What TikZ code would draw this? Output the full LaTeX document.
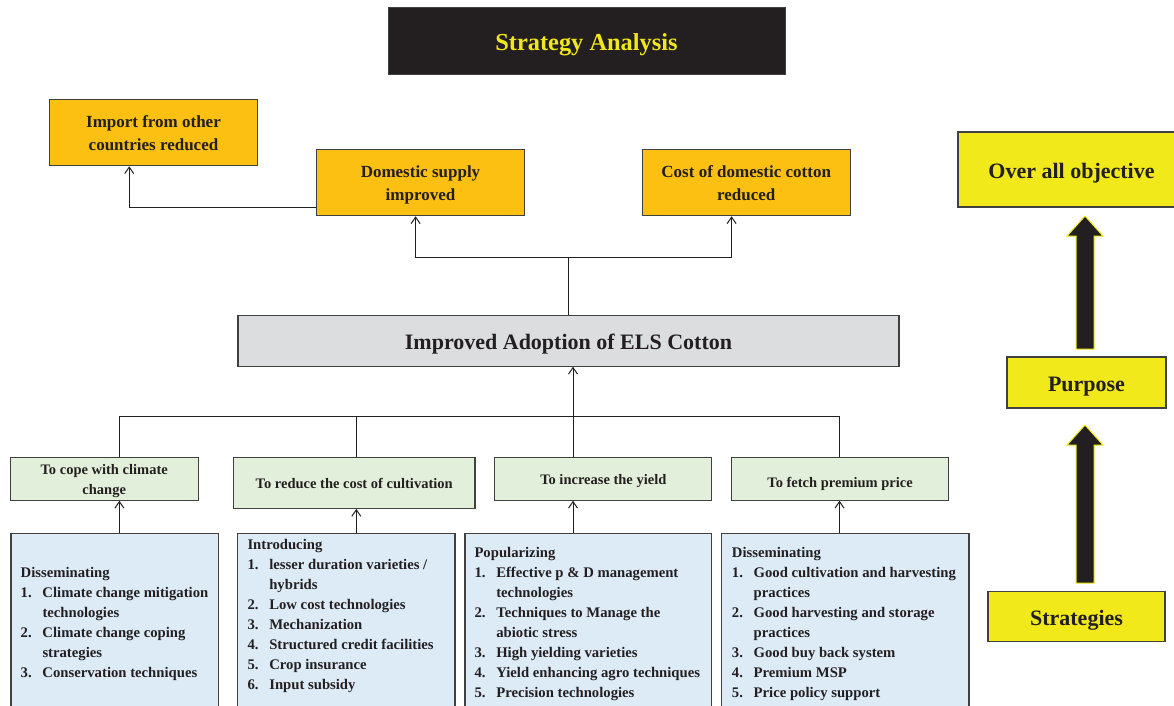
\documentclass[tikz,border=0pt]{standalone}
\usepackage{fontspec}
\setmainfont{Liberation Serif}
\usetikzlibrary{arrows.meta,calc}
\definecolor{orangebox}{RGB}{251,192,18}
\definecolor{yelbox}{RGB}{242,233,26}
\definecolor{greybox}{RGB}{220,221,223}
\definecolor{greenbox}{RGB}{226,239,218}
\definecolor{bluebox}{RGB}{221,235,247}
\definecolor{edgegrey}{RGB}{64,64,64}
\definecolor{inkblack}{RGB}{35,31,32}
\definecolor{titleyel}{RGB}{240,232,28}
\newcommand\itemno[1]{\makebox[21.8pt][l]{#1}}
\newcommand\boxtopstrut{\rule{0pt}{1em}}
\newcommand\boxbotstrut{\rule[-0.22em]{0pt}{0.22em}}
\newcommand\thickuparrow[2]{%
  \fill[inkblack, draw=yelbox, line width=1pt]
    ($(#1)+(-9,0)$) -- ($(#2)+(-9,20)$) -- ($(#2)+(-18,20)$) -- (#2)
    -- ($(#2)+(18,20)$) -- ($(#2)+(9,20)$) -- ($(#1)+(9,0)$) -- cycle;}
\begin{document}
\begin{tikzpicture}[x=1pt,y=-1pt,
  box/.style={draw=edgegrey, line width=1.2pt, inner sep=0pt, align=center, text=inkblack},
  orangenode/.style={box, fill=orangebox, minimum width=208pt, minimum height=66.5pt,
     font=\bfseries\fontsize{17}{23}\selectfont},
  yelnode/.style={box, fill=yelbox, font=\bfseries\fontsize{22}{26}\selectfont},
  greennode/.style={box, fill=greenbox, minimum height=42.3pt,
     font=\bfseries\fontsize{14.5}{20}\selectfont},
  bluenode/.style={box, fill=bluebox, minimum height=183pt},
  listtext/.style={inner sep=0pt, align=left, text=inkblack, anchor=north west,
     font=\bfseries\fontsize{14.7}{20}\selectfont},
  conn/.style={draw=inkblack, line width=1pt},
  arr/.style={conn, -{Straight Barb[length=6.5pt,width=9pt,line width=1pt]}}
]
\useasboundingbox (0,0) rectangle (1174,706);
\clip (0,0) rectangle (1174,706);

% title
\node[fill=inkblack, draw=edgegrey, line width=0.8pt, minimum width=397pt, minimum height=66.5pt,
  inner sep=0pt, text=titleyel, font=\bfseries\fontsize{24.4}{28}\selectfont]
  (title) at (586.5,40.8) {\boxtopstrut Strategy Analysis\boxbotstrut};

% top outcome boxes
\node[orangenode] (import) at (153.5,132.4) {\boxtopstrut Import from other\\countries reduced\boxbotstrut};
\node[orangenode] (domestic) at (420.5,182.4) {\boxtopstrut Domestic supply\\improved\boxbotstrut};
\node[orangenode] (cost) at (746.2,182.4) {\boxtopstrut Cost of domestic cotton\\reduced\boxbotstrut};

% central box
\node[box, fill=greybox, minimum width=661pt, minimum height=50.3pt,
  font=\bfseries\fontsize{22}{26}\selectfont] (adopt) at (568.5,341)
  {\boxtopstrut Improved Adoption of ELS Cotton\boxbotstrut};

% right column
\node[yelnode, minimum width=227pt, minimum height=75pt] (objective) at (1071.5,169.5)
  {\boxtopstrut Over all objective\boxbotstrut};
\node[yelnode, minimum width=159pt, minimum height=51pt] (purpose) at (1086.5,382.5)
  {\boxtopstrut Purpose\boxbotstrut};
\node[yelnode, minimum width=177pt, minimum height=50pt] (strategies) at (1076.5,616.7)
  {\boxtopstrut Strategies\boxbotstrut};

% green strategy boxes
\node[greennode, minimum width=188pt] (g1) at (104.2,479)
  {\boxtopstrut To cope with climate\\change\boxbotstrut};
\node[greennode, minimum width=241.6pt, minimum height=50.6pt] (g2) at (354.2,483)
  {\boxtopstrut To reduce the cost of cultivation\boxbotstrut};
\node[greennode, minimum width=217pt] (g3) at (603.3,479)
  {\boxtopstrut To increase the yield\boxbotstrut};
\node[greennode, minimum width=217.2pt] (g4) at (840.1,479)
  {\rule{0pt}{1.4em}To fetch premium price\boxbotstrut};

% blue activity boxes
\node[bluenode, minimum width=207.3pt] (b1) at (114.7,624.8) {};
\node[bluenode, minimum width=217.3pt] (b2) at (346.3,624.8) {};
\node[bluenode, minimum width=246.7pt] (b3) at (588.3,624.8) {};
\node[bluenode, minimum width=247.3pt] (b4) at (845.3,624.8) {};

\node[listtext] (t1) at (20.5,567.5) {Disseminating\\
\itemno{1.}Climate change mitigation\\
\itemno{}technologies\\
\itemno{2.}Climate change coping\\
\itemno{}strategies\\
\itemno{3.}Conservation techniques};

\node[listtext] (t2) at (247.3,539) {Introducing\\
\itemno{1.}lesser duration varieties /\\
\itemno{}hybrids\\
\itemno{2.}Low cost technologies\\
\itemno{3.}Mechanization\\
\itemno{4.}Structured credit facilities\\
\itemno{5.}Crop insurance\\
\itemno{6.}Input subsidy};

\node[listtext] (t3) at (474.3,547.3) {Popularizing\\
\itemno{1.}Effective p \& D management\\
\itemno{}technologies\\
\itemno{2.}Techniques to Manage the\\
\itemno{}abiotic stress\\
\itemno{3.}High yielding varieties\\
\itemno{4.}Yield enhancing agro techniques\\
\itemno{5.}Precision technologies};

\node[listtext] (t4) at (731.7,547.3) {Disseminating\\
\itemno{1.}Good cultivation and harvesting\\
\itemno{}practices\\
\itemno{2.}Good harvesting and storage\\
\itemno{}practices\\
\itemno{3.}Good buy back system\\
\itemno{4.}Premium MSP\\
\itemno{5.}Price policy support};

% connectors: top
\coordinate (topbus) at (568.7,257);
\coordinate (importturn) at (129.2,207);
\draw[conn] (adopt.north -| topbus) -- (topbus);
\draw[arr] (topbus) -| ([xshift=-4.9pt]domestic.south);
\draw[arr] (topbus) -| ([xshift=-14.6pt]cost.south);
\draw[arr] (domestic.west |- importturn) -- (importturn) -- (importturn |- import.south);

% connectors: bottom
\coordinate (c1) at (119.4,416);
\coordinate (c2) at (356.3,416);
\coordinate (c3) at (573,416);
\coordinate (c4) at (839.5,416);
\draw[conn] (c1 |- g1.north) -- (c1) -- (c4) -- (c4 |- g4.north);
\draw[conn] (c2) -- (c2 |- g2.north);
\draw[arr] (c3 |- g3.north) -- (c3 |- adopt.south);

\draw[arr] (c1 |- b1.north) -- (c1 |- g1.south);
\draw[arr] (c2 |- b2.north) -- (c2 |- g2.south);
\draw[arr] (c3 |- b3.north) -- (c3 |- g3.south);
\draw[arr] (c4 |- b4.north) -- (c4 |- g4.south);

% big arrows on the right
\coordinate (ar1tail) at (1085,349);
\coordinate (ar1tip) at (1085,216);
\coordinate (ar2tail) at (1085,583);
\coordinate (ar2tip) at (1085,425);
\thickuparrow{ar1tail}{ar1tip}
\thickuparrow{ar2tail}{ar2tip}
\end{tikzpicture}
\end{document}
